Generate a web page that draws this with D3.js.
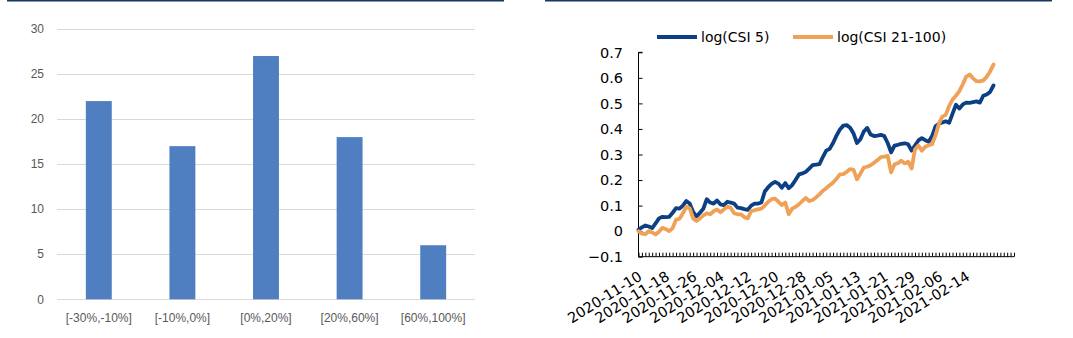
<!DOCTYPE html>
<html>
<head>
<meta charset="utf-8">
<script src="https://cdn.jsdelivr.net/npm/d3@7"></script>
<style>
  html, body { margin: 0; padding: 0; background: #fff; }
  svg { display: block; }
</style>
</head>
<body>
<svg id="chart" width="1073" height="338"></svg>
<script>
// ---- Left panel: distribution of returns ----
const bins = ["[-30%,-10%]", "[-10%,0%]", "[0%,20%]", "[20%,60%]", "[60%,100%]"];
const binCounts = [22, 17, 27, 18, 6];
const countTicks = [0, 5, 10, 15, 20, 25, 30];

// ---- Right panel: daily log index levels ----
const startDate = "2020-11-10";
const axisEndDate = "2021-02-28";
const csi5 = [
  0.005, 0.015, 0.022, 0.018, 0.012, 0.030, 0.050, 0.056, 0.055, 0.056,
  0.072, 0.090, 0.088, 0.100, 0.118, 0.108, 0.075, 0.058, 0.072, 0.088,
  0.125, 0.112, 0.108, 0.120, 0.105, 0.102, 0.115, 0.112, 0.108, 0.092,
  0.090, 0.086, 0.083, 0.100, 0.108, 0.108, 0.112, 0.155, 0.172, 0.185,
  0.193, 0.186, 0.170, 0.188, 0.168, 0.180, 0.200, 0.222, 0.226, 0.232,
  0.245, 0.258, 0.260, 0.262, 0.290, 0.315, 0.322, 0.345, 0.374, 0.398,
  0.413, 0.415, 0.405, 0.382, 0.345, 0.360, 0.390, 0.404, 0.378, 0.372,
  0.374, 0.377, 0.372, 0.345, 0.308, 0.335, 0.338, 0.342, 0.344, 0.340,
  0.315, 0.335, 0.355, 0.364, 0.356, 0.350, 0.372, 0.410, 0.420, 0.425,
  0.430, 0.424, 0.460, 0.495, 0.480, 0.496, 0.503, 0.502, 0.505, 0.508,
  0.503, 0.530, 0.535, 0.545, 0.570
];
const csi21_100 = [
  0.000, -0.010, -0.012, 0.000, -0.005, -0.013, -0.002, 0.013, 0.008, 0.000,
  0.012, 0.045, 0.048, 0.070, 0.095, 0.090, 0.050, 0.040, 0.050, 0.062,
  0.070, 0.066, 0.078, 0.085, 0.074, 0.085, 0.096, 0.092, 0.070, 0.066,
  0.066, 0.055, 0.050, 0.078, 0.082, 0.085, 0.088, 0.100, 0.115, 0.125,
  0.127, 0.115, 0.102, 0.112, 0.066, 0.088, 0.095, 0.105, 0.118, 0.130,
  0.118, 0.122, 0.132, 0.144, 0.158, 0.168, 0.180, 0.190, 0.205, 0.222,
  0.223, 0.232, 0.243, 0.240, 0.203, 0.225, 0.249, 0.252, 0.258, 0.268,
  0.278, 0.290, 0.292, 0.295, 0.230, 0.262, 0.266, 0.276, 0.265, 0.272,
  0.245, 0.320, 0.335, 0.315, 0.330, 0.336, 0.340, 0.375, 0.420, 0.448,
  0.455, 0.490, 0.515, 0.530, 0.548, 0.575, 0.605, 0.613, 0.598, 0.587,
  0.586, 0.590, 0.604, 0.625, 0.652
];
const dateLabels = [
  "2020-11-10", "2020-11-18", "2020-11-26", "2020-12-04", "2020-12-12",
  "2020-12-20", "2020-12-28", "2021-01-05", "2021-01-13", "2021-01-21",
  "2021-01-29", "2021-02-06", "2021-02-14"
];
const logTicks = [-0.1, 0, 0.1, 0.2, 0.3, 0.4, 0.5, 0.6, 0.7];
const seriesNames = ["log(CSI 5)", "log(CSI 21-100)"];
const seriesColors = ["#0d3f84", "#efa257"];

const svg = d3.select("#chart");
const parse = d3.utcParse("%Y-%m-%d");

// Panel header rules
svg.append("line").attr("x1", 7).attr("x2", 504).attr("y1", 0.75).attr("y2", 0.75)
  .attr("stroke", "#17375e").attr("stroke-width", 1.5);
svg.append("line").attr("x1", 545).attr("x2", 1052).attr("y1", 0.75).attr("y2", 0.75)
  .attr("stroke", "#17375e").attr("stroke-width", 1.5);

// ================= Bar chart =================
const bx = d3.scaleBand().domain(bins).range([57, 475]).paddingInner(0.69).paddingOuter(0.345);
const by = d3.scaleLinear().domain([0, 30]).range([299.3, 29]);
const left = svg.append("g").attr("font-family", "'Liberation Sans', Arial, sans-serif");

left.append("g").selectAll("line").data(countTicks).join("line")
  .attr("x1", 57).attr("x2", 475)
  .attr("y1", d => Math.round(by(d)) + 0.5).attr("y2", d => Math.round(by(d)) + 0.5)
  .attr("stroke", "#d9d9d9").attr("stroke-width", 1);

left.append("g").selectAll("text").data(countTicks).join("text")
  .attr("x", 44).attr("y", d => by(d)).attr("dy", "0.35em")
  .attr("text-anchor", "end").attr("font-size", 12).attr("fill", "#595959")
  .text(d => d);

left.append("g").selectAll("rect").data(binCounts).join("rect")
  .attr("x", (d, i) => bx(bins[i])).attr("width", bx.bandwidth())
  .attr("y", d => by(d)).attr("height", d => by(0) - by(d))
  .attr("fill", "#4f7fc0");

left.append("g").selectAll("text").data(bins).join("text")
  .attr("x", d => bx(d) + bx.bandwidth() / 2).attr("y", 322)
  .attr("text-anchor", "middle").attr("font-size", 12).attr("fill", "#595959")
  .text(d => d);

// ================= Line chart =================
const dates = d3.utcDay.range(parse(startDate), d3.utcDay.offset(parse(startDate), csi5.length));
const lx = d3.scaleUtc().domain([parse(startDate), parse(axisEndDate)]).range([638.5, 1014]);
const ly = d3.scaleLinear().domain([-0.1, 0.7]).range([256.7, 52.3]);
const right = svg.append("g").attr("font-family", "'DejaVu Sans', Verdana, sans-serif");

// Y axis with inward ticks
const yAxis = right.append("g").attr("transform", "translate(638.5,0)")
  .call(d3.axisRight(ly).tickValues(logTicks).tickSize(4).tickFormat(""));
yAxis.select(".domain").attr("d", `M4,${ly(0.7)}H0V${ly(-0.1)}`).attr("stroke", "#000");
yAxis.selectAll(".tick line").attr("stroke", "#000");

right.append("g").selectAll("text").data(logTicks).join("text")
  .attr("x", 623).attr("y", d => ly(d)).attr("dy", "0.36em")
  .attr("text-anchor", "end").attr("font-size", 14.5).attr("fill", "#000")
  .text(d => d === 0 ? "0" : d3.format(".1f")(d));

// X axis: a tick for every day, labels every eighth day
const xAxis = right.append("g").attr("transform", `translate(0,${ly(-0.1)})`)
  .call(d3.axisTop(lx).ticks(d3.utcDay.every(1)).tickSize(4).tickFormat(""));
xAxis.select(".domain").attr("d", `M638.5,0H1014`).attr("stroke", "#000");
xAxis.selectAll(".tick line").attr("stroke", "#000");

right.append("g").selectAll("text").data(dateLabels).join("text")
  .attr("transform", d => `translate(${lx(parse(d)) + 2},${ly(-0.1) + 18}) rotate(-32)`)
  .attr("text-anchor", "end").attr("font-size", 14.5).attr("fill", "#000")
  .attr("dy", "0.35em")
  .text(d => d);

const line = d3.line().x((d, i) => lx(dates[i])).y(d => ly(d)).curve(d3.curveLinear);
[csi5, csi21_100].forEach((s, k) => {
  right.append("path").datum(s)
    .attr("d", line)
    .attr("fill", "none").attr("stroke", seriesColors[k])
    .attr("stroke-width", 3.8).attr("stroke-linejoin", "round").attr("stroke-linecap", "round");
});

// Legend
const legendX = [657, 793];
seriesNames.forEach((name, k) => {
  right.append("line").attr("x1", legendX[k]).attr("x2", legendX[k] + 40)
    .attr("y1", 37).attr("y2", 37)
    .attr("stroke", seriesColors[k]).attr("stroke-width", 4);
  right.append("text").attr("x", legendX[k] + 44).attr("y", 37).attr("dy", "0.35em")
    .attr("font-size", 14).attr("fill", "#000").text(name);
});
</script>
</body>
</html>
